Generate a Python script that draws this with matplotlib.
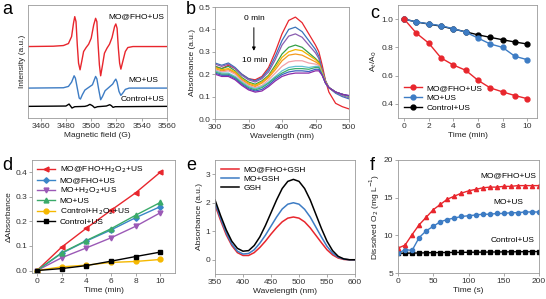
import matplotlib
matplotlib.use("Agg")
import matplotlib.pyplot as plt
from matplotlib.lines import Line2D

# ---- panel a: EPR spectra (field in G, intensity in a.u.) ----
epr_red_x = [3450, 3470, 3478, 3482, 3484.5, 3486, 3487, 3488, 3489, 3490, 3491.2, 3492.5, 3494, 3496, 3498,
             3500, 3502, 3503.5, 3504.5, 3505.5, 3506.5, 3507.5, 3509, 3510.5, 3512.5, 3514.5, 3516.5, 3518.5,
             3519.5, 3520.5, 3521.5, 3522.5, 3523.5, 3525, 3527, 3529, 3533, 3560]
epr_red_y = [215, 216, 218, 224, 245, 285, 305, 290, 220, 165, 145, 170, 200, 212, 222,
             240, 280, 300, 290, 220, 160, 127, 160, 195, 210, 222, 242, 275,
             283, 270, 210, 165, 147, 170, 200, 212, 215, 215]
epr_blue_x = [3450, 3478, 3482, 3484.5, 3486.5, 3487.5, 3489, 3490.5, 3491.5, 3493, 3495, 3498, 3501, 3502.5,
              3503.5, 3504.5, 3506, 3507.5, 3509, 3511, 3514, 3517, 3518.5, 3519.5, 3520.5, 3522, 3523.5, 3525,
              3527, 3530, 3560]
epr_blue_y = [90, 91, 95, 108, 127, 120, 90, 60, 57, 70, 84, 92, 100, 115,
              125, 118, 85, 55, 65, 82, 92, 102, 112, 117, 108, 80, 68, 75,
              86, 90, 90]
epr_black_x = [3450, 3480, 3482.5, 3484.8, 3487, 3495, 3497, 3499, 3501, 3502.7, 3505, 3512, 3514.7, 3516,
               3517.3, 3519, 3560]
epr_black_y = [35, 36, 42, 30, 34, 35, 37, 41, 37, 31, 34, 36, 40, 37, 32, 34, 35]

# ---- panel b: UV-vis of MO degradation, 0..10 min ----
wl_b = [300, 310, 320, 330, 340, 350, 360, 370, 380, 390, 400, 410, 420, 430, 440, 450, 455, 460, 465, 470, 480, 490, 500]
abs_b = [
    [0.235, 0.225, 0.240, 0.225, 0.200, 0.180, 0.175, 0.190, 0.230, 0.300, 0.380, 0.440, 0.455, 0.430, 0.380, 0.330, 0.300, 0.240, 0.170, 0.120, 0.070, 0.055, 0.045],
    [0.250, 0.240, 0.250, 0.230, 0.200, 0.180, 0.170, 0.185, 0.220, 0.280, 0.350, 0.400, 0.410, 0.390, 0.350, 0.310, 0.280, 0.220, 0.170, 0.140, 0.115, 0.100, 0.090],
    [0.245, 0.235, 0.245, 0.225, 0.195, 0.175, 0.165, 0.180, 0.210, 0.265, 0.330, 0.370, 0.380, 0.365, 0.330, 0.295, 0.270, 0.215, 0.170, 0.140, 0.120, 0.105, 0.095],
    [0.235, 0.225, 0.235, 0.215, 0.185, 0.165, 0.155, 0.170, 0.195, 0.240, 0.290, 0.320, 0.330, 0.320, 0.295, 0.270, 0.255, 0.210, 0.165, 0.140, 0.120, 0.110, 0.100],
    [0.230, 0.220, 0.225, 0.210, 0.180, 0.160, 0.150, 0.165, 0.190, 0.230, 0.275, 0.300, 0.310, 0.305, 0.285, 0.265, 0.250, 0.210, 0.165, 0.140, 0.120, 0.110, 0.100],
    [0.225, 0.215, 0.220, 0.205, 0.175, 0.155, 0.145, 0.160, 0.185, 0.220, 0.260, 0.285, 0.290, 0.285, 0.270, 0.255, 0.245, 0.205, 0.165, 0.140, 0.120, 0.110, 0.100],
    [0.220, 0.210, 0.215, 0.200, 0.170, 0.150, 0.140, 0.150, 0.175, 0.205, 0.235, 0.255, 0.260, 0.260, 0.250, 0.245, 0.240, 0.200, 0.160, 0.140, 0.120, 0.110, 0.100],
    [0.215, 0.205, 0.205, 0.190, 0.165, 0.145, 0.135, 0.145, 0.165, 0.190, 0.215, 0.230, 0.235, 0.235, 0.230, 0.235, 0.235, 0.200, 0.160, 0.140, 0.120, 0.110, 0.100],
    [0.210, 0.200, 0.200, 0.185, 0.160, 0.140, 0.130, 0.140, 0.160, 0.185, 0.205, 0.220, 0.225, 0.225, 0.222, 0.230, 0.230, 0.198, 0.160, 0.140, 0.120, 0.110, 0.102],
    [0.205, 0.195, 0.195, 0.180, 0.155, 0.135, 0.125, 0.132, 0.152, 0.178, 0.198, 0.210, 0.215, 0.215, 0.212, 0.222, 0.222, 0.196, 0.160, 0.140, 0.120, 0.110, 0.104],
    [0.200, 0.190, 0.190, 0.175, 0.150, 0.130, 0.120, 0.125, 0.145, 0.170, 0.190, 0.200, 0.205, 0.205, 0.205, 0.215, 0.215, 0.195, 0.160, 0.140, 0.120, 0.110, 0.105],
]
colors_b = ['#e8262d', '#3b73b9', '#8a5db0', '#35a048', '#f0b400', '#f39a1e', '#f2a0a8',
            '#63c0d5', '#3cae6a', '#3a62c0', '#8a2aa8']

# ---- panel c: At/A0 vs time ----
t_c = [0, 1, 2, 3, 4, 5, 6, 7, 8, 9, 10]
c_fho = [1.0, 0.90, 0.83, 0.725, 0.675, 0.638, 0.567, 0.513, 0.485, 0.459, 0.437]
c_mo = [1.0, 0.98, 0.967, 0.953, 0.932, 0.908, 0.866, 0.824, 0.80, 0.737, 0.713]
c_ctrl = [1.0, 0.98, 0.965, 0.95, 0.93, 0.91, 0.889, 0.871, 0.854, 0.838, 0.824]

# ---- panel d: delta absorbance vs time ----
t_d = [0, 2, 4, 6, 8, 10]
d_fho_h2o2 = [0.0, 0.095, 0.172, 0.245, 0.316, 0.40]
d_fho = [0.0, 0.07, 0.12, 0.165, 0.215, 0.26]
d_mo_h2o2 = [0.0, 0.052, 0.092, 0.133, 0.18, 0.235]
d_mo = [0.0, 0.072, 0.122, 0.17, 0.225, 0.277]
d_ctrl_h2o2 = [0.0, 0.015, 0.022, 0.033, 0.037, 0.045]
d_ctrl = [0.0, 0.008, 0.02, 0.038, 0.057, 0.075]

# ---- panel e: GSH assay ----
wl_e = [350, 360, 370, 380, 390, 400, 410, 420, 430, 440, 450, 460, 470, 480, 490, 500,
        510, 520, 530, 540, 550, 560, 570, 580, 590, 600]
e_gsh = [2.1, 1.55, 1.05, 0.65, 0.4, 0.3, 0.32, 0.5, 0.8, 1.2, 1.65, 2.1, 2.5, 2.75, 2.82, 2.75,
         2.5, 2.1, 1.6, 1.1, 0.65, 0.32, 0.12, 0.03, 0.0, 0.0]
e_mo = [2.0, 1.45, 0.95, 0.55, 0.3, 0.2, 0.22, 0.35, 0.58, 0.86, 1.18, 1.5, 1.78, 1.95, 2.0, 1.95,
        1.77, 1.5, 1.15, 0.8, 0.47, 0.23, 0.09, 0.02, 0.0, 0.0]
e_fho = [1.92, 1.38, 0.88, 0.5, 0.25, 0.15, 0.15, 0.25, 0.43, 0.65, 0.9, 1.13, 1.33, 1.46, 1.5, 1.46,
         1.33, 1.12, 0.86, 0.6, 0.35, 0.17, 0.06, 0.01, 0.0, 0.0]

# ---- panel f: dissolved O2 ----
t_f = [0, 10, 20, 30, 40, 50, 60, 70, 80, 90, 100, 110, 120, 130, 140, 150, 160, 170, 180, 190, 200]
f_fho = [8.3, 8.7, 10.1, 11.4, 12.4, 13.4, 14.1, 14.8, 15.2, 15.6, 15.9, 16.1, 16.3, 16.4, 16.4,
         16.5, 16.5, 16.6, 16.6, 16.6, 16.6]
f_mo = [7.6, 8.1, 8.0, 9.7, 10.6, 11.2, 11.8, 12.1, 12.3, 12.5, 12.6, 12.7, 12.8, 12.8, 12.9,
        12.9, 13.0, 13.0, 13.1, 13.1, 13.1]
f_ctrl = [7.6, 7.62, 7.64, 7.66, 7.68, 7.7, 7.71, 7.72, 7.73, 7.74, 7.75, 7.76, 7.77, 7.78, 7.79,
          7.8, 7.81, 7.82, 7.83, 7.84, 7.85]

RED = '#e8262d'
BLUE = '#3d7cc4'
BLACK = '#000000'

plt.rcParams['font.family'] = ['Liberation Sans', 'DejaVu Sans']
plt.rcParams['font.size'] = 6
plt.rcParams['axes.edgecolor'] = '#9a9a9a'
plt.rcParams['axes.linewidth'] = 0.6
plt.rcParams['xtick.major.size'] = 2
plt.rcParams['ytick.major.size'] = 2
plt.rcParams['xtick.major.width'] = 0.6
plt.rcParams['ytick.major.width'] = 0.6
plt.rcParams['xtick.color'] = '#9a9a9a'
plt.rcParams['ytick.color'] = '#9a9a9a'
plt.rcParams['xtick.labelcolor'] = '#333333'
plt.rcParams['ytick.labelcolor'] = '#333333'
plt.rcParams['xtick.major.pad'] = 1.5
plt.rcParams['ytick.major.pad'] = 1.5
plt.rcParams['axes.labelpad'] = 1.5
plt.rcParams['axes.labelcolor'] = '#222222'
plt.rcParams['legend.fontsize'] = 6

W, H = 546, 299
fig = plt.figure(figsize=(W / 100, H / 100), dpi=100)


def box(x0, y0, x1, y1):
    return fig.add_axes([x0 / W, 1 - y1 / H, (x1 - x0) / W, (y1 - y0) / H])


def letter(x, y, s):
    fig.text(x / W, 1 - y / H, s, fontsize=13, ha='left', va='center')


# a
ax = box(28, 5, 167, 118)
ax.plot(epr_red_x, epr_red_y, color=RED, lw=1.0)
ax.plot(epr_blue_x, epr_blue_y, color=BLUE, lw=1.0)
ax.plot(epr_black_x, epr_black_y, color=BLACK, lw=1.0)
ax.set_xlim(3450, 3560)
ax.set_ylim(0, 340)
ax.set_xticks([3460, 3480, 3500, 3520, 3540, 3560])
ax.set_yticks([])
ax.set_xlabel('Magnetic field (G)')
ax.set_ylabel('Intensity (a.u.)')
ax.text(3558, 305, 'MO@FHO+US', ha='right', va='center')
ax.text(3553, 112, 'MO+US', ha='right', va='center')
ax.text(3558, 55, 'Control+US', ha='right', va='center')
letter(2, 10, 'a')

# b
ax = box(215, 7, 349, 119)
for i in range(len(abs_b)):
    ax.plot(wl_b, abs_b[i], color=colors_b[i], lw=0.9)
ax.set_xlim(300, 500)
ax.set_ylim(0, 0.5)
ax.set_xticks([300, 350, 400, 450, 500])
ax.set_yticks([0.0, 0.1, 0.2, 0.3, 0.4, 0.5])
ax.set_xlabel('Wavelength (nm)')
ax.set_ylabel('Absorbance (a.u.)')
ax.text(359, 0.448, '0 min', ha='center', va='center')
ax.text(359, 0.263, '10 min', ha='center', va='center')
ax.annotate('', xy=(358, 0.292), xytext=(358, 0.42),
            arrowprops=dict(arrowstyle='-|>', color='black', lw=0.7, mutation_scale=5))
letter(186, 10, 'b')

# c
ax = box(398, 5, 537, 118)
ax.plot(t_c, c_ctrl, color=BLACK, marker='o', ms=3.5, lw=1.0)
ax.plot(t_c, c_mo, color=BLUE, marker='o', ms=3.5, lw=1.0)
ax.plot(t_c, c_fho, color=RED, marker='o', ms=3.5, lw=1.0)
ax.set_xlim(-0.5, 10.8)
ax.set_ylim(0.3, 1.1)
ax.set_xticks([0, 2, 4, 6, 8, 10])
ax.set_yticks([0.4, 0.6, 0.8, 1.0])
ax.set_xlabel('Time (min)')
ax.set_ylabel('A$_t$/A$_0$')
handles = [Line2D([], [], color=RED, marker='o', ms=3.5, lw=1.0),
           Line2D([], [], color=BLUE, marker='o', ms=3.5, lw=1.0),
           Line2D([], [], color=BLACK, marker='o', ms=3.5, lw=1.0)]
ax.legend(handles, ['MO@FHO+US', 'MO+US', 'Control+US'], loc='lower left', frameon=False,
          handlelength=2.2, handletextpad=0.5, labelspacing=0.25, borderaxespad=0.3)
letter(370, 13, 'c')

# d
ax = box(32, 160, 175, 273)
ax.plot(t_d, d_fho_h2o2, color=RED, marker='<', ms=3.5, lw=1.0, label='MO@FHO+H$_2$O$_2$+US')
ax.plot(t_d, d_fho, color='#3a86c8', marker='D', ms=2.8, lw=1.0, label='MO@FHO+US')
ax.plot(t_d, d_mo_h2o2, color='#9b59b6', marker='v', ms=3.5, lw=1.0, label='MO+H$_2$O$_2$+US')
ax.plot(t_d, d_mo, color='#3aaa6a', marker='^', ms=3.5, lw=1.0, label='MO+US')
ax.plot(t_d, d_ctrl_h2o2, color='#f5b800', marker='o', ms=3.5, lw=1.0, label='Control+H$_2$O$_2$+US')
ax.plot(t_d, d_ctrl, color=BLACK, marker='s', ms=3.0, lw=1.0, label='Control+US')
ax.set_xlim(-0.4, 11.2)
ax.set_ylim(-0.01, 0.45)
ax.set_xticks([0, 2, 4, 6, 8, 10])
ax.set_yticks([0.0, 0.1, 0.2, 0.3, 0.4])
ax.set_xlabel('Time (min)')
ax.set_ylabel('ΔAbsorbance')
ax.legend(loc='upper left', frameon=False, handlelength=2.2, handletextpad=0.5,
          labelspacing=0.15, borderaxespad=0.2)
letter(2, 165, 'd')

# e
ax = box(215, 160, 355, 274)
ax.plot(wl_e, e_fho, color=RED, lw=1.1, label='MO@FHO+GSH')
ax.plot(wl_e, e_mo, color=BLUE, lw=1.1, label='MO+GSH')
ax.plot(wl_e, e_gsh, color=BLACK, lw=1.1, label='GSH')
ax.set_xlim(350, 600)
ax.set_ylim(-0.5, 3.5)
ax.set_xticks([350, 400, 450, 500, 550, 600])
ax.set_yticks([0, 1, 2, 3])
ax.set_xlabel('Wavelength (nm)')
ax.set_ylabel('Absorbance (a.u.)')
ax.legend(loc='upper left', frameon=False, handlelength=2.2, handletextpad=0.5,
          labelspacing=0.15, borderaxespad=0.3)
letter(186, 165, 'e')

# f
ax = box(398, 160, 539, 273)
ax.plot(t_f, f_ctrl, color=BLACK, marker='s', ms=2.6, lw=1.0)
ax.plot(t_f, f_mo, color=BLUE, marker='o', ms=3.0, lw=1.0)
ax.plot(t_f, f_fho, color=RED, marker='^', ms=3.0, lw=1.0)
ax.set_xlim(0, 200)
ax.set_ylim(5, 20)
ax.set_xticks([0, 50, 100, 150, 200])
ax.set_yticks([5, 10, 15, 20])
ax.set_xlabel('Time (s)')
ax.set_ylabel('Dissolved O$_2$ (mg L$^{-1}$)')
ax.text(157, 17.9, 'MO@FHO+US', ha='center', va='center')
ax.text(157, 14.3, 'MO+US', ha='center', va='center')
ax.text(162, 9.3, 'Control+US', ha='center', va='center')
letter(370, 165, 'f')

fig.savefig('out.png', dpi=100)
